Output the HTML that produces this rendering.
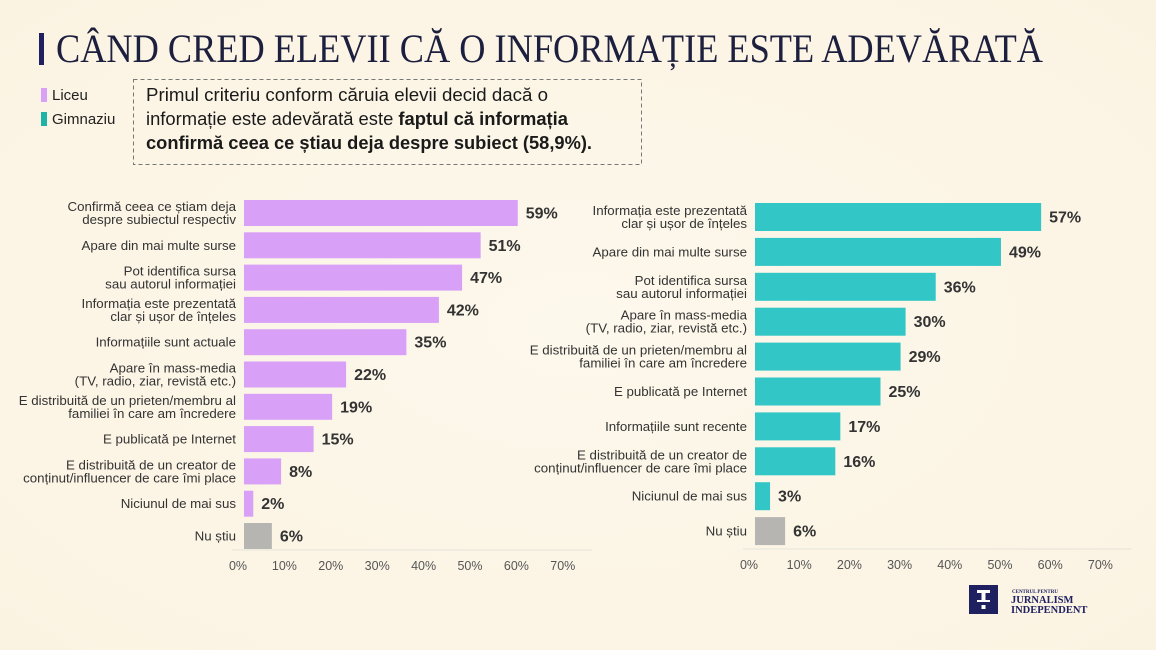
<!DOCTYPE html>
<html><head><meta charset="utf-8"><style>
html,body{margin:0;padding:0;background:#fcf5e6;}
svg{display:block;font-family:"Liberation Sans",sans-serif;}
</style></head><body>
<svg id="chart" width="1156" height="650" viewBox="0 0 1156 650" xmlns="http://www.w3.org/2000/svg">
<defs><radialGradient id="bg" cx="0.5" cy="0.5" r="0.7"><stop offset="0" stop-color="#fdf8ec"/><stop offset="1" stop-color="#fbf3e2"/></radialGradient></defs>
<rect width="1156" height="650" fill="url(#bg)"/>
<rect x="39" y="33" width="5" height="32" fill="#1f2060"/>
<text x="56" y="62" font-family="Liberation Serif,serif" font-size="40" fill="#1d1f3e" textLength="987" lengthAdjust="spacingAndGlyphs">CÂND CRED ELEVII CĂ O INFORMAȚIE ESTE ADEVĂRATĂ</text>
<g>
<rect x="41" y="88" width="6" height="14" fill="#d9a0f7"/>
<text x="52" y="100" font-size="15" fill="#222">Liceu</text>
<rect x="41" y="112" width="6" height="14" fill="#1fb3a8"/>
<text x="52" y="124" font-size="15" fill="#222">Gimnaziu</text>
</g>
<rect x="133.5" y="79.5" width="508" height="85" fill="none" stroke="#777" stroke-dasharray="4,3"/>
<g font-size="18.5" fill="#1a1a1a">
<text x="146" y="101" textLength="402" lengthAdjust="spacingAndGlyphs">Primul criteriu conform căruia elevii decid dacă o</text>
<text x="146" y="125" textLength="422" lengthAdjust="spacingAndGlyphs">informație este adevărată este <tspan font-weight="bold">faptul că informația</tspan></text>
<text x="146" y="149" font-weight="bold" textLength="446" lengthAdjust="spacingAndGlyphs">confirmă ceea ce știau deja despre subiect (58,9%).</text>
</g>
<g id="left"></g>
<g id="right"></g>
<g>
<rect x="969" y="585" width="29" height="29" fill="#1f2060"/>
<rect x="977" y="590" width="13" height="3" fill="#fff"/><rect x="981.5" y="590" width="4" height="12" fill="#fff"/><rect x="977" y="600" width="13" height="2" fill="#fff"/><rect x="981.5" y="605" width="4" height="4" fill="#fff"/>
<text x="1012" y="593" font-family="Liberation Serif,serif" font-size="5" font-weight="bold" fill="#1f2060">CENTRUL PENTRU</text>
<text x="1011" y="603" font-family="Liberation Serif,serif" font-size="10.5" font-weight="bold" fill="#1f2060">JURNALISM</text>
<text x="1011" y="613" font-family="Liberation Serif,serif" font-size="10.5" font-weight="bold" fill="#1f2060">INDEPENDENT</text>
</g>
</svg>
<script>
const leftCats=[["Confirmă ceea ce știam deja","despre subiectul respectiv"],["Apare din mai multe surse"],["Pot identifica sursa","sau autorul informației"],["Informația este prezentată","clar și ușor de înțeles"],["Informațiile sunt actuale"],["Apare în mass-media","(TV, radio, ziar, revistă etc.)"],["E distribuită de un prieten/membru al","familiei în care am încredere"],["E publicată pe Internet"],["E distribuită de un creator de","conținut/influencer de care îmi place"],["Niciunul de mai sus"],["Nu știu"]];
const leftVals=[59,51,47,42,35,22,19,15,8,2,6];
const rightCats=[["Informația este prezentată","clar și ușor de înțeles"],["Apare din mai multe surse"],["Pot identifica sursa","sau autorul informației"],["Apare în mass-media","(TV, radio, ziar, revistă etc.)"],["E distribuită de un prieten/membru al","familiei în care am încredere"],["E publicată pe Internet"],["Informațiile sunt recente"],["E distribuită de un creator de","conținut/influencer de care îmi place"],["Niciunul de mai sus"],["Nu știu"]];
const rightVals=[57,49,36,30,29,25,17,16,3,6];
const ticks=[0,10,20,30,40,50,60,70];
const NS="http://www.w3.org/2000/svg";
function mk(parent,tag,attrs,txt){const e=document.createElementNS(NS,tag);for(const k in attrs)e.setAttribute(k,attrs[k]);if(txt!=null)e.textContent=txt;parent.appendChild(e);return e;}
function draw(g,cats,vals,cfg){
  const x=v=>cfg.x0+v*cfg.scale;
  const y=i=>cfg.y0+i*cfg.pitch;
  mk(g,'line',{x1:cfg.x0-12,x2:x(75),y1:cfg.axisY,y2:cfg.axisY,stroke:'#e6e2da','stroke-width':1});
  ticks.forEach(t=>{const tl=mk(g,'text',{x:x(t)-6,y:cfg.axisY+20,'font-size':12.5,fill:'#555','text-anchor':'middle'},t+'%');
    
    });
  vals.forEach((v,i)=>{
    const gray=i===vals.length-1;
    const r=mk(g,'rect',{x:x(0),y:y(i),width:x(v)-x(0),height:cfg.bh,fill:gray?'#b7b5b2':cfg.color});
    
    
    const vl=mk(g,'text',{x:x(v)+8,y:y(i)+cfg.bh/2+5.5,'font-size':16,'font-weight':'bold',fill:'#333'},v+'%');
    
    
    const lines=cats[i];const cy=y(i)+cfg.bh/2;
    lines.forEach((s,j)=>{const ty=cy+4.5+(j-(lines.length-1)/2)*13;
      const c=mk(g,'text',{x:cfg.x0-8,y:ty,'font-size':13.3,fill:'#333','text-anchor':'end'},s);
      
      });
  });
}
draw(document.getElementById('left'),leftCats,leftVals,{x0:244,scale:4.64,y0:200,pitch:32.3,bh:26,axisY:550,color:'#d9a0f7'});
draw(document.getElementById('right'),rightCats,rightVals,{x0:755,scale:5.02,y0:203,pitch:34.9,bh:28,axisY:549,color:'#33c6c6'});
</script>
</body></html>
